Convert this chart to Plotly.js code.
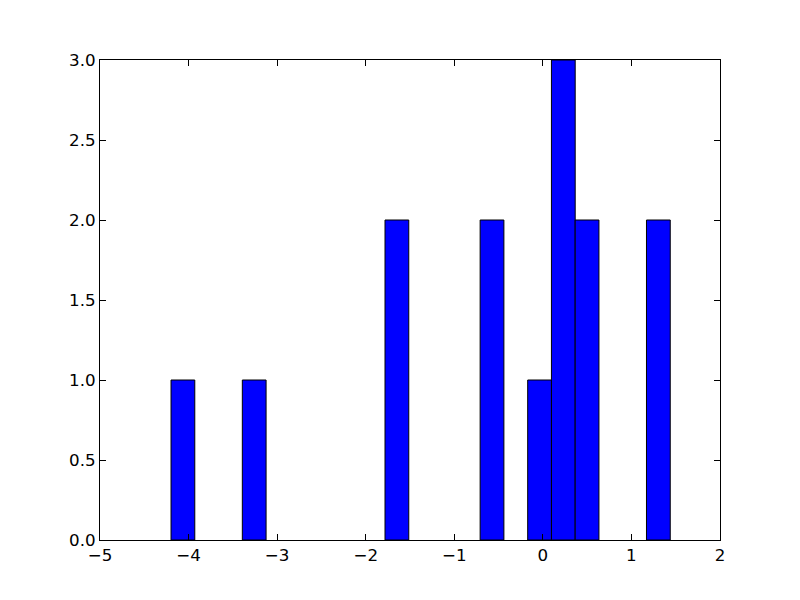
<!DOCTYPE html>
<html>
<head>
<meta charset="utf-8">
<script src="https://cdn.plot.ly/plotly-3.0.1.min.js"></script>
<style>html,body{margin:0;padding:0;background:#fff;}#chart{width:800px;height:600px;}</style>
</head>
<body>
<div id="chart"></div>
<script>
// Histogram bins (non-empty bins only)
var binCenters = [-4.064, -3.259, -1.648, -0.574, -0.037, 0.231, 0.499, 1.304];
var counts = [1, 1, 2, 2, 1, 3, 2, 2];
var binWidth = 0.2684;
var xTicks = [-5, -4, -3, -2, -1, 0, 1, 2];
var yTicks = [0, 0.5, 1, 1.5, 2, 2.5, 3];

var trace = {
  type: 'bar',
  x: binCenters,
  y: counts,
  width: binCenters.map(function(){return binWidth;}),
  marker: {color: '#0000ff', line: {color: '#000000', width: 1}},
  hoverinfo: 'x+y'
};

var axisCommon = {
  showgrid: false,
  zeroline: false,
  showline: true,
  linecolor: '#000',
  linewidth: 1,
  mirror: 'allticks',
  ticks: 'inside',
  ticklen: 6,
  tickwidth: 1,
  tickcolor: '#000',
  tickfont: {family: 'DejaVu Sans', size: 16.7, color: '#000'}
};

var layout = {
  width: 800,
  height: 600,
  margin: {l: 100, r: 80, t: 60, b: 60},
  paper_bgcolor: '#fff',
  plot_bgcolor: '#fff',
  showlegend: false,
  bargap: 0,
  xaxis: Object.assign({}, axisCommon, {range: [-5, 2], tickmode: 'array', tickvals: xTicks, ticktext: xTicks.map(function(v){return v < 0 ? '\u2212' + Math.abs(v) : String(v);})}),
  yaxis: Object.assign({}, axisCommon, {range: [0, 3], tickmode: 'array', tickvals: yTicks, ticktext: yTicks.map(function(v){return v.toFixed(1);})})
};

Plotly.newPlot('chart', [trace], layout, {displayModeBar: false, staticPlot: true});
</script>
</body>
</html>
